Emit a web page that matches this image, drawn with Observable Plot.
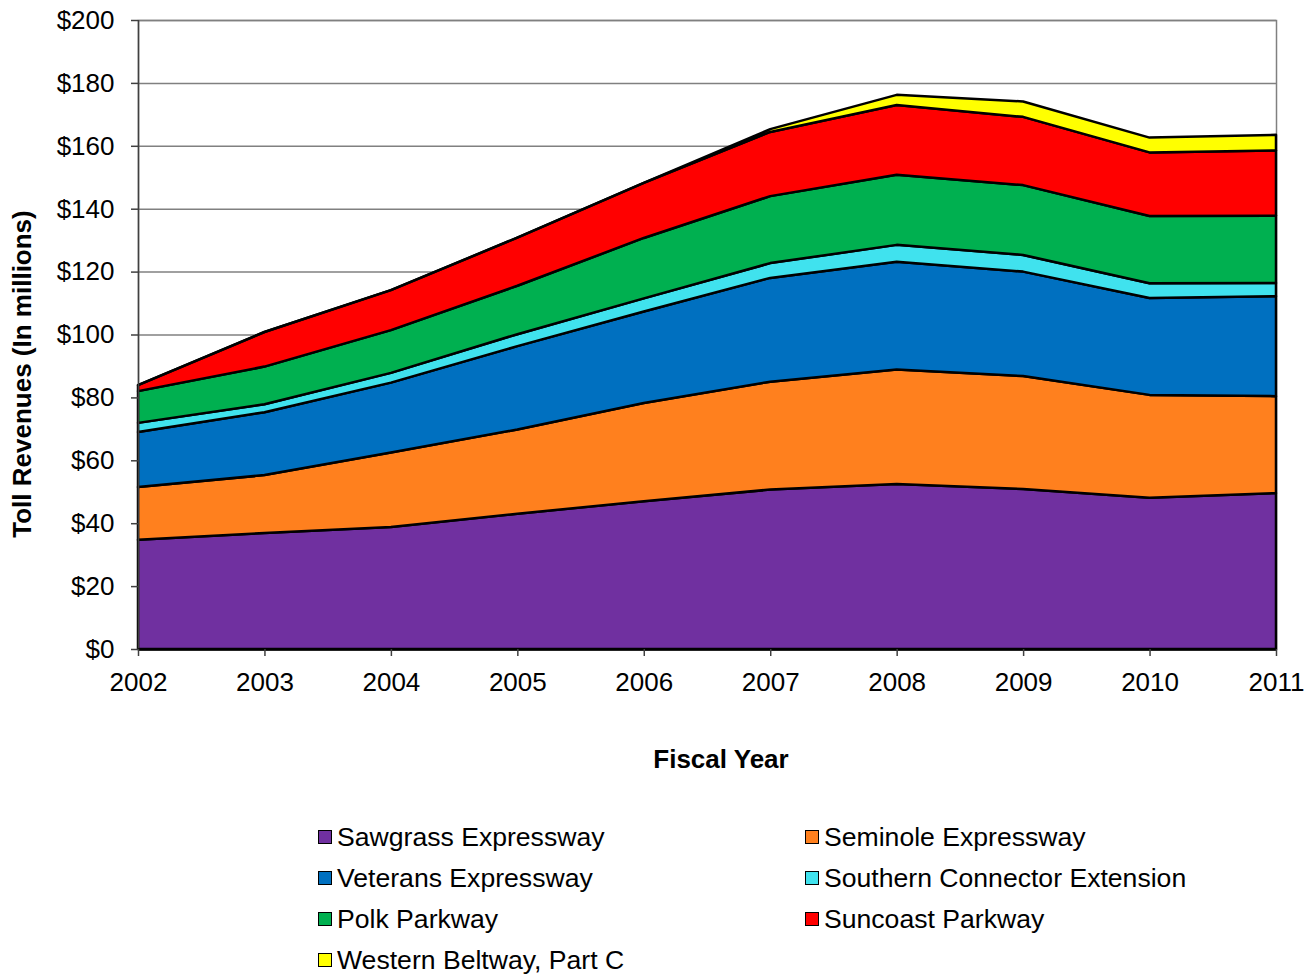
<!DOCTYPE html>
<html>
<head>
<meta charset="utf-8">
<script src="https://cdn.jsdelivr.net/npm/d3@7"></script>
<script src="https://cdn.jsdelivr.net/npm/@observablehq/plot@0.6"></script>
<style>
  body { margin: 0; background: #fff; font-family: Arial, "Liberation Sans", sans-serif; }
  #wrap { position: relative; width: 1313px; height: 975px; }
  #legend { position: absolute; left: 0; top: 817px; width: 1313px; font-size: 26.6px; color: #000; }
  .item { position: absolute; height: 41px; line-height: 41px; white-space: nowrap; }
  .sw { display: inline-block; width: 12px; height: 12px; border: 1.5px solid #000; margin-right: 5px; vertical-align: middle; position: relative; top: -2px; }
</style>
</head>
<body>
<div id="wrap"><div id="chart"></div><div id="legend"></div></div>
<script>
const years = [2002, 2003, 2004, 2005, 2006, 2007, 2008, 2009, 2010, 2011];
const seriesNames = ["Sawgrass Expressway", "Seminole Expressway", "Veterans Expressway", "Southern Connector Extension", "Polk Parkway", "Suncoast Parkway", "Western Beltway, Part C"];
const sawgrass = [34.7, 36.9, 38.8, 43.0, 47.0, 50.7, 52.5, 50.9, 48.1, 49.6];
const seminole = [16.8, 18.4, 23.7, 26.8, 31.2, 34.3, 36.4, 35.9, 32.7, 30.8];
const veterans = [17.5, 20.0, 22.2, 26.5, 29.1, 33.0, 34.2, 33.2, 30.8, 31.8];
const southernConnector = [2.9, 2.5, 3.1, 3.8, 4.2, 4.7, 5.4, 5.3, 4.7, 4.2];
const polk = [10.1, 12.0, 13.6, 15.4, 19.2, 21.3, 22.3, 22.2, 21.4, 21.4];
const suncoast = [1.9, 11.0, 12.7, 15.3, 17.5, 20.4, 22.2, 21.7, 20.2, 20.7];
const westernBeltway = [0, 0, 0, 0, 0, 0.9, 3.2, 4.9, 4.7, 5.0];
const colors = ["#7030A0", "#FF801E", "#0070C0", "#40E2EE", "#00B050", "#FF0000", "#FFFF00"];
const yTicks = [0, 20, 40, 60, 80, 100, 120, 140, 160, 180, 200];

const seriesValues = [sawgrass, seminole, veterans, southernConnector, polk, suncoast, westernBeltway];
const data = seriesNames.flatMap((name, i) => years.map((year, j) => ({series: name, year, value: seriesValues[i][j]})));

const W = 1313, H = 800;
const chart = Plot.plot({
  width: W,
  height: H,
  marginTop: 20,
  marginBottom: H - 649,
  marginLeft: 138,
  marginRight: W - 1276,
  style: {fontSize: "26px", fontFamily: "Arial, 'Liberation Sans', sans-serif", color: "#000", background: "#fff", overflow: "visible"},
  x: {domain: [2002, 2011], ticks: years, tickFormat: d => String(d), label: null},
  y: {domain: [0, 200], ticks: yTicks, tickFormat: d => "$" + d, label: null},
  color: {domain: seriesNames, range: colors},
  marks: [
    Plot.gridY(yTicks, {stroke: "#808080", strokeOpacity: 1, strokeWidth: 1.5}),
    Plot.frame({stroke: "#808080", strokeWidth: 1.5}),
    Plot.areaY(data, {x: "year", y: "value", z: "series", fill: "series", stroke: "#000", strokeWidth: 2.5, strokeLinejoin: "round", order: null}),
    Plot.ruleX([2002], {stroke: "#404040", strokeWidth: 1.5}),
    Plot.ruleY([0], {stroke: "#000", strokeWidth: 2.5}),
    Plot.axisY({ticks: yTicks, tickFormat: d => "$" + d, tickSize: 7, tickPadding: 17, stroke: "#404040", strokeWidth: 1.5, label: null}),
    Plot.axisX({ticks: years, tickFormat: d => String(d), tickSize: 7, tickPadding: 16, stroke: "#404040", strokeWidth: 1.5, label: null})
  ]
});
document.getElementById("chart").appendChild(chart);

const svg = d3.select(chart);
svg.append("text")
  .attr("x", 721).attr("y", 768)
  .attr("text-anchor", "middle")
  .attr("font-weight", "bold")
  .attr("font-size", 26)
  .attr("fill", "#000")
  .text("Fiscal Year");
svg.append("text")
  .attr("transform", "translate(31,374) rotate(-90)")
  .attr("text-anchor", "middle")
  .attr("font-weight", "bold")
  .attr("font-size", 26)
  .attr("fill", "#000")
  .text("Toll Revenues (In millions)");

const legend = d3.select("#legend");
const positions = [[318, 0], [805, 0], [318, 1], [805, 1], [318, 2], [805, 2], [318, 3]];
seriesNames.forEach((name, i) => {
  const [lx, row] = positions[i];
  const item = legend.append("div").attr("class", "item").style("left", lx + "px").style("top", (row * 41) + "px");
  item.append("span").attr("class", "sw").style("background", colors[i]);
  item.append("span").text(name);
});
</script>
</body>
</html>
